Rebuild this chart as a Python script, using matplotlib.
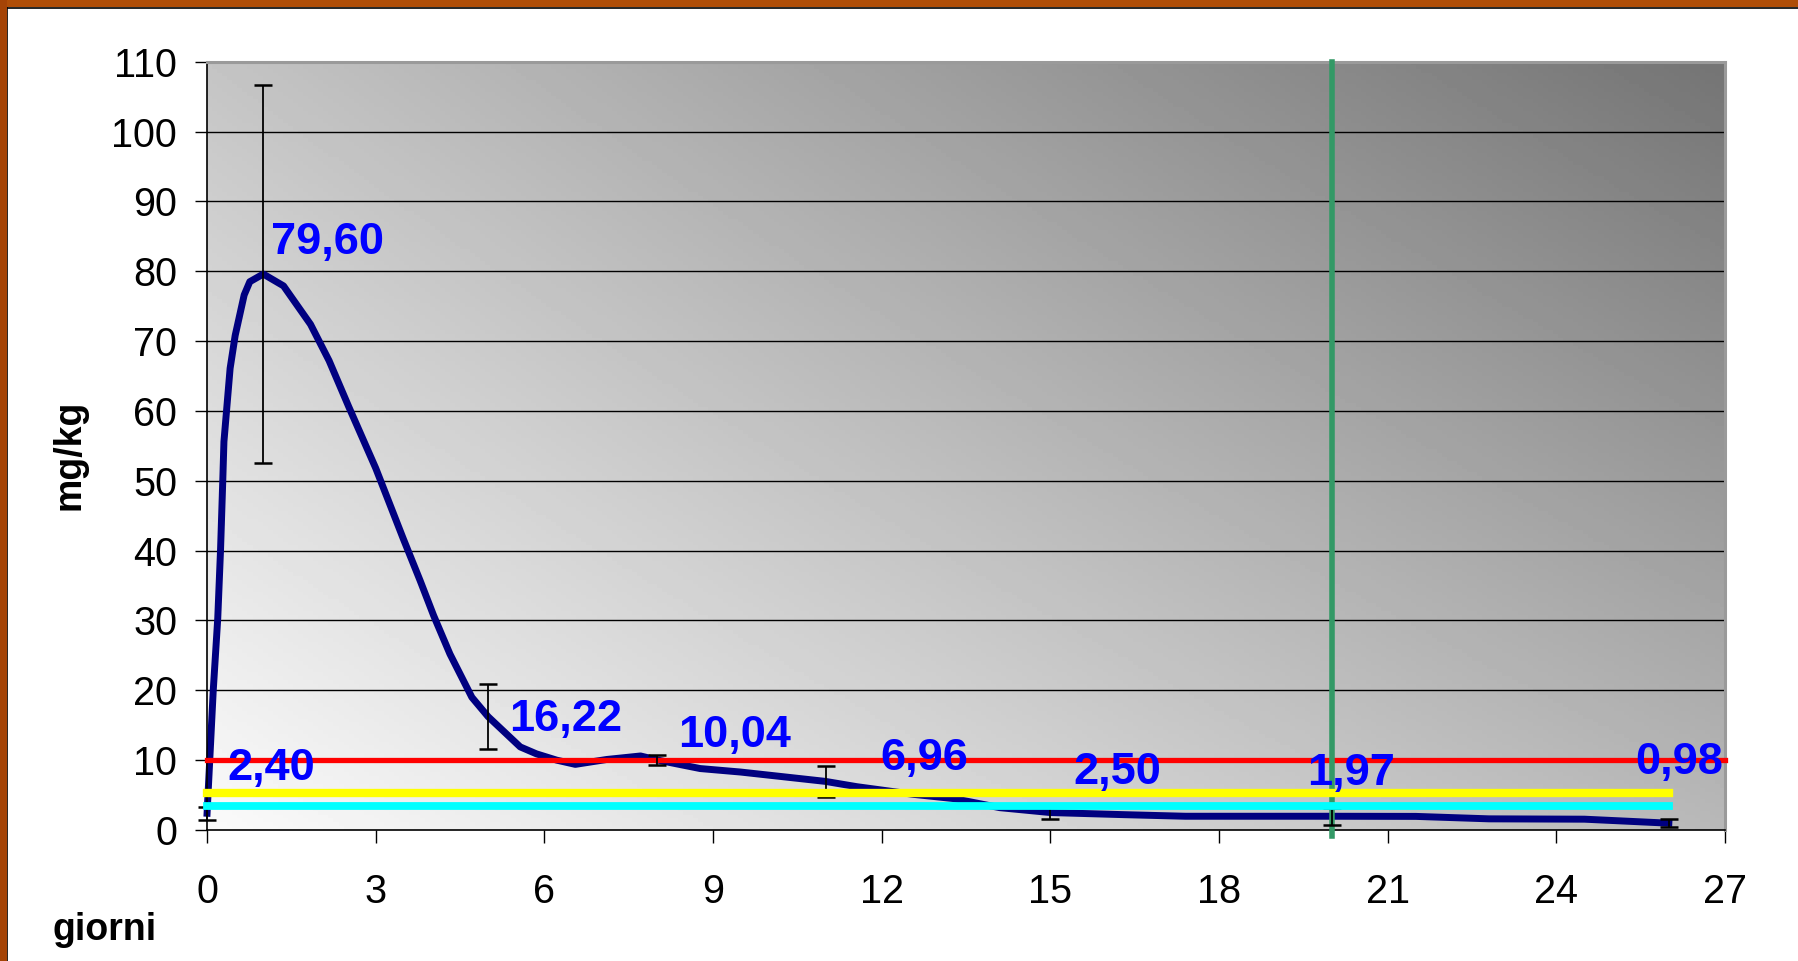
import numpy as np
import matplotlib
matplotlib.use('Agg')
import matplotlib.pyplot as plt
from matplotlib.patches import Rectangle

plt.rcParams['font.family'] = ['Liberation Sans', 'DejaVu Sans']

# curve (giorni, mg/kg)
curve_x = [0.0, 0.05, 0.11, 0.19, 0.24, 0.28, 0.30, 0.41, 0.50, 0.66, 0.76, 1.0,
           1.36, 1.84, 2.17, 2.52, 3.0, 3.49, 3.79, 4.03, 4.32, 4.71, 5.0, 5.57,
           5.86, 6.22, 6.55, 7.11, 7.71, 8.0, 8.77, 9.49, 11.0, 11.56, 12.57,
           13.28, 14.1, 15.0, 16.3, 17.4, 20.0, 21.5, 22.8, 24.5, 26.0]
curve_y = [2.4, 10.4, 20.0, 30.3, 40.2, 50.2, 55.6, 66.1, 70.8, 76.6, 78.5, 79.6,
           77.9, 72.4, 67.2, 60.6, 51.8, 41.7, 35.7, 30.7, 25.2, 19.0, 16.22, 11.9,
           10.9, 10.0, 9.4, 10.1, 10.6, 10.04, 8.8, 8.3, 6.96, 6.2, 5.1,
           4.5, 3.2, 2.5, 2.2, 1.97, 1.97, 1.95, 1.6, 1.55, 0.98]

# sampled days with their means and error
days = [0, 1, 5, 8, 11, 15, 20, 26]
means = [2.40, 79.60, 16.22, 10.04, 6.96, 2.50, 1.97, 0.98]
errors = [0.95, 27.0, 4.65, 0.7, 2.24, 0.95, 1.2, 0.55]

# reference levels
red_x, red_y = [0, 27], [10, 10]
yellow_x, yellow_y = [0, 26], [5.3, 5.3]
cyan_x, cyan_y = [0, 26], [3.4, 3.4]
limit_day = 20

x_ticks = list(range(0, 28, 3))
y_ticks = list(range(0, 111, 10))

# where the value labels sit (data coords, centre of the digits)
label_pos = [(1.14, 9.5), (2.15, 84.7), (6.38, 16.45), (9.38, 14.2),
             (12.75, 10.87), (16.19, 8.94), (20.34, 8.73), (26.18, 10.26)]

fig = plt.figure(figsize=(17.99, 9.61), dpi=100)
ax = fig.add_axes([0.1151, 0.1363, 0.8438, 0.7995])

# gradient background of the plot area
gx, gy = np.meshgrid(np.linspace(0, 1, 300), np.linspace(0, 1, 200))
lum = 250 - 66 * gx - 54 * gy - 14 * gx * gy
ax.imshow(lum, extent=[0, 1, 0, 1], transform=ax.transAxes, origin='lower',
          cmap='gray', vmin=0, vmax=255, aspect='auto', zorder=0)

ax.set_xlim(0, 27)
ax.set_ylim(0, 110)
ax.set_xticks(x_ticks)
ax.set_yticks(y_ticks)
for t in y_ticks[1:-1]:
    ax.axhline(t, color='black', lw=1.0, zorder=1)

ax.plot(curve_x, curve_y, color='#000080', lw=5.0, zorder=2,
        solid_joinstyle='round', clip_on=False)

ax.plot(red_x, red_y, color='#FF0000', lw=3.8, zorder=3,
        solid_capstyle='projecting', clip_on=False)
ax.plot([limit_day, limit_day], [-0.8, 110], color='#339966', lw=4.0,
        zorder=3.2, clip_on=False)
ax.plot(yellow_x, yellow_y, color='#FFFF00', lw=6.0, zorder=3.4,
        solid_capstyle='projecting', clip_on=False)
ax.plot(cyan_x, cyan_y, color='#00FFFF', lw=5.6, zorder=3.5,
        solid_capstyle='projecting', clip_on=False)

ax.errorbar(days, means, yerr=errors, fmt='none', ecolor='black',
            elinewidth=1.3, capsize=6.7, capthick=1.8, zorder=3.3, clip_on=False)

for (lx, ly), v in zip(label_pos, means):
    ax.annotate(f'{v:.2f}'.replace('.', ','), xy=(lx, ly), xytext=(0, -11.5),
                textcoords='offset points', ha='center', va='baseline',
                fontsize=32.5, fontweight='bold', color='#0000FF', zorder=6)

for s in ['left', 'bottom']:
    ax.spines[s].set_color('black')
    ax.spines[s].set_linewidth(1.2)
for s in ['top', 'right']:
    ax.spines[s].set_color('#9a9a9a')
    ax.spines[s].set_linewidth(2.2)

ax.tick_params(axis='y', direction='out', length=8.6, width=1.0, pad=13,
               labelsize=28.5)
ax.tick_params(axis='x', direction='out', length=9.1, width=1.0, pad=22,
               labelsize=28.5)

fig.text(0.0581, 1 - 940 / 961, 'giorni', ha='center', va='baseline',
         fontsize=27, fontweight='bold')
fig.text(0.0389, 0.5265, 'mg/kg', ha='center', va='center', rotation=90,
         fontsize=27, fontweight='bold')

# brown slide frame on top and left
fig.patches.append(Rectangle((0, 1 - 7 / 961), 1, 7 / 961, transform=fig.transFigure,
                             facecolor='#B04E08', edgecolor='none', zorder=10))
fig.patches.append(Rectangle((0, 0), 7 / 1799, 1, transform=fig.transFigure,
                             facecolor='#A54406', edgecolor='none', zorder=10))
fig.lines.append(plt.Line2D([7 / 1799, 1], [1 - 7.5 / 961, 1 - 7.5 / 961],
                            transform=fig.transFigure, color='black', lw=1.2))
fig.lines.append(plt.Line2D([7.5 / 1799, 7.5 / 1799], [0, 1 - 7 / 961],
                            transform=fig.transFigure, color='black', lw=1.2))

fig.savefig('out.png', dpi=100)
